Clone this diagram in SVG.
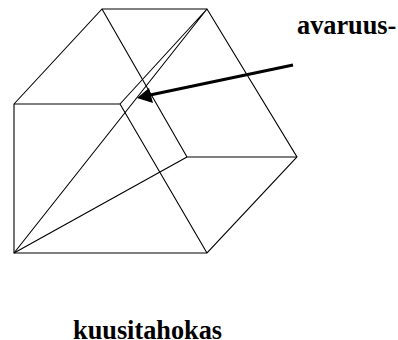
<svg xmlns="http://www.w3.org/2000/svg" width="398" height="340" viewBox="0 0 398 340">
<style>
.e{fill:none;stroke:#000;stroke-width:1.1}
.t{font-family:"Liberation Serif","Times New Roman",serif;font-weight:bold;font-size:26.3px;fill:#000}
</style>
<rect width="398" height="340" fill="#fff"/>
<g id="connectors">
<path class="e" d="M14 104L102 9H207L297 157L207 253H14Z"/>
<path class="e" d="M14 104H120L207 253"/>
<path class="e" d="M102 9L187 157H297"/>
<path class="e" d="M14 253L187 157"/>
<path class="e" d="M14 253L207 9L120 104"/>
<path fill="none" stroke="#000" stroke-width="3" d="M293 65L150 95"/>
<path fill="#000" d="M137 98L149 88L153 103Z"/>
</g>
<text id="label-avaruus" class="t" x="297" y="34">avaruus-</text>
<text id="label-kuusitahokas" class="t" x="73" y="339">kuusitahokas</text>
</svg>
